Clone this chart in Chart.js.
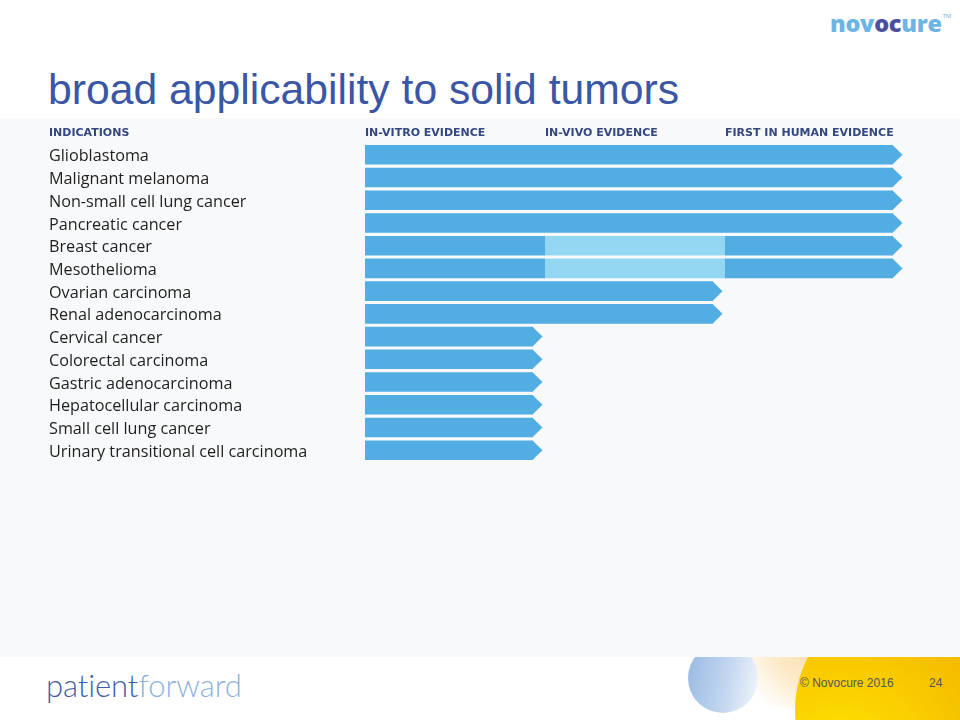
<!DOCTYPE html>
<html>
<head>
<meta charset="utf-8">
<title>broad applicability to solid tumors</title>
<script src="https://cdn.jsdelivr.net/npm/chart.js@4/dist/chart.umd.min.js"></script>
<style>
html,body{margin:0;padding:0;}
body{width:960px;height:720px;position:relative;overflow:hidden;background:#fff;font-family:"Liberation Sans",Arial,sans-serif;}
#logo{position:absolute;left:830px;top:7px;font:800 23.5px "Open Sans",sans-serif;color:#6cb4e4;letter-spacing:-0.3px;}
#logo .oc{color:#4b4f9e;}
#logo sup{font-size:6px;font-weight:400;vertical-align:top;position:relative;top:5px;left:1px;}
#title{position:absolute;left:48px;top:68px;font-size:42.7px;line-height:42px;color:#3a56a4;white-space:nowrap;}
#blue-dot{position:absolute;left:688px;top:643px;width:70px;height:70px;border-radius:50%;background:linear-gradient(100deg,#97b9e2 0%,#c2d6ef 55%,#f4f7fc 100%);}
#cream{position:absolute;left:722px;top:580px;width:160px;height:130px;border-radius:50%;background:radial-gradient(circle at 62% 42%,#fadca0 0%,#fce9c6 40%,rgba(255,255,255,0) 72%);}
#sun{position:absolute;left:795px;top:595px;width:230px;height:230px;border-radius:50%;background:radial-gradient(circle at 20% 75%,#ffe800 0%,#fbd100 30%,#f5bd00 60%,#f2b000 100%);}
#band{position:absolute;left:0;top:118px;width:960px;height:539px;background:#f8f9fa;}
#wrap{position:absolute;left:0;top:118px;width:960px;height:360px;}
#pf{position:absolute;left:46px;top:666px;font:300 31px Lato,sans-serif;color:#3f5ea6;letter-spacing:-0.1px;}
#pf span{color:#8db3dc;}
#copy{position:absolute;left:800px;top:676px;font-size:12px;color:#555;}
#page{position:absolute;left:929px;top:676px;font-size:12px;color:#555;}
</style>
</head>
<body>
<div id="logo">nov<span class="oc">oc</span>ure<sup>TM</sup></div>
<div id="title">broad applicability to solid tumors</div>
<div id="cream"></div>
<div id="sun"></div>
<div id="blue-dot"></div>
<div id="band"></div>
<div id="wrap"><canvas id="chart"></canvas></div>
<div id="pf">patient<span>forward</span></div>
<div id="copy">© Novocure 2016</div>
<div id="page">24</div>
<script>
/* ========== data ========= */
const categories=["Glioblastoma","Malignant melanoma","Non-small cell lung cancer","Pancreatic cancer","Breast cancer","Mesothelioma","Ovarian carcinoma","Renal adenocarcinoma","Cervical cancer","Colorectal carcinoma","Gastric adenocarcinoma","Hepatocellular carcinoma","Small cell lung cancer","Urinary transitional cell carcinoma"];
const stageLabels=["IN-VITRO EVIDENCE","IN-VIVO EVIDENCE","FIRST IN HUMAN EVIDENCE"];
const inVitro=[1,1,1,1,1,1,1,1,1,1,1,1,1,1];
const inVivo=[1,1,1,1,1,1,1,1,0,0,0,0,0,0];
const inHuman=[1,1,1,1,1,1,0,0,0,0,0,0,0,0];
const inVivoPartial=[0,0,0,0,1,1,0,0,0,0,0,0,0,0];

/* ========== styles ========= */
const BG="#f8f9fa", BLUE="#52ade2", LIGHT="#93d7f3", HEAD="#34477f";
const headFont={family:"'DejaVu Sans'",size:11,weight:"bold"};

/* ========== arrow tips on the last segment ========= */
const arrowTips={
    id:"arrowTips",
    afterDatasetsDraw(chart){
        const ctx=chart.ctx;
        categories.forEach((c,i)=>{
            let el=null,color=BLUE;
            chart.data.datasets.forEach((ds,d)=>{
                if(ds.data[i]>0){
                    el=chart.getDatasetMeta(d).data[i];
                    color=Array.isArray(ds.backgroundColor)?ds.backgroundColor[i]:ds.backgroundColor;
                }
            });
            if(!el) return;
            const {x,y,height:h}=el, top=y-h/2, bot=y+h/2, bx=Math.round(x-12);
            ctx.save();
            ctx.fillStyle=BG;ctx.fillRect(bx,top-1,x-bx+2,h+2);
            ctx.fillStyle=color;
            ctx.beginPath();ctx.moveTo(bx-0.5,top);ctx.lineTo(x-2.5,y);ctx.lineTo(bx-0.5,bot);ctx.closePath();ctx.fill();
            ctx.restore();
        });
    },
    afterDraw(chart){
        const ctx=chart.ctx, xs=chart.scales.x;
        ctx.save();
        ctx.font=`${headFont.weight} ${headFont.size}px ${headFont.family}`;
        ctx.fillStyle=HEAD;ctx.textAlign="left";ctx.textBaseline="middle";
        ctx.fillText("INDICATIONS",49,xs.bottom-3.3-headFont.size*0.6);
        ctx.restore();
    }
};

/* ========== chart ========= */
new Chart(document.getElementById("chart"),{
    type:"bar",
    data:{
        labels:categories,
        datasets:[
            {label:stageLabels[0],data:inVitro,backgroundColor:BLUE},
            {label:stageLabels[1],data:inVivo,backgroundColor:inVivoPartial.map(p=>p?LIGHT:BLUE)},
            {label:stageLabels[2],data:inHuman,backgroundColor:BLUE}
        ]
    },
    options:{
        indexAxis:"y",
        responsive:true,maintainAspectRatio:false,animation:false,
        layout:{padding:{left:49,right:55,top:0,bottom:16.4}},
        datasets:{bar:{barPercentage:0.862,categoryPercentage:1,borderWidth:0,inflateAmount:0}},
        plugins:{legend:{display:false},tooltip:{enabled:false}},
        scales:{
            x:{
                type:"linear",position:"top",stacked:true,min:0,max:3,
                grid:{display:false,drawTicks:false},border:{display:false},
                ticks:{stepSize:1,align:"start",padding:3.3,color:HEAD,font:headFont,
                    callback:v=>stageLabels[v]||""},
                afterFit:s=>{s.height=25.4;}
            },
            y:{
                stacked:true,
                grid:{display:false,drawTicks:false},border:{display:false},
                ticks:{crossAlign:"far",padding:0,labelOffset:2,color:"#1e1e1e",font:{family:"'Open Sans'",size:16.2}},
                afterFit:s=>{s.width=316;}
            }
        }
    },
    plugins:[arrowTips]
});
</script>
</body>
</html>
